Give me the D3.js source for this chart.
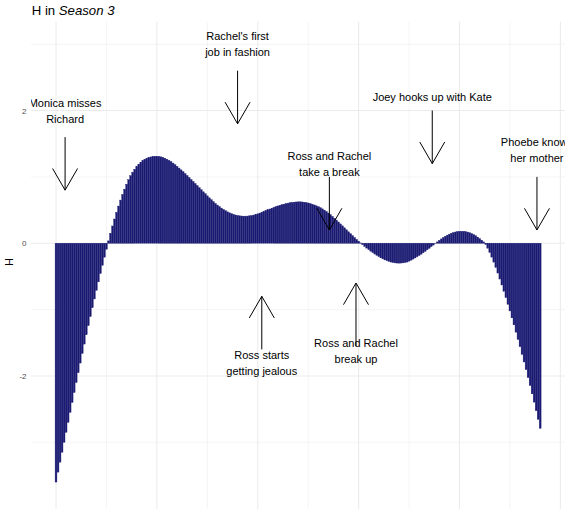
<!DOCTYPE html>
<html><head><meta charset="utf-8">
<script src="https://cdn.jsdelivr.net/npm/d3@7"></script>
<style>body{margin:0;background:#fff}svg{display:block}text{font-family:"Liberation Sans",Arial,Helvetica,sans-serif}</style>
</head><body><svg id="c" width="570" height="512"></svg>
<script>
// ---- data ----
const hValues = [
-3.60,-3.45,-3.30,-3.15,-3.00,-2.85,-2.70,-2.55,-2.40,-2.25,
-2.10,-1.952,-1.806,-1.662,-1.52,-1.38,-1.242,-1.106,-0.972,-0.84,
-0.71,-0.582,-0.456,-0.332,-0.21,-0.09,
0.035,0.15,0.26,0.365,0.465,0.56,0.65,0.735,0.815,0.89,
0.958,1.018,1.07,1.115,1.155,1.19,1.22,1.245,1.265,1.28,
1.292,1.301,1.307,1.31,1.31,
1.308,1.302,1.293,1.281,1.266,1.249,1.23,1.208,1.184,1.159,
1.133,1.106,1.078,1.049,1.02,0.99,0.96,0.93,0.899,0.868,
0.837,0.806,0.775,0.745,0.714,0.684,0.655,0.627,0.6,0.575,
0.551,0.529,0.509,0.49,0.473,0.458,0.445,0.434,0.425,0.418,
0.413,0.41,0.408,0.408,0.409,
0.413,0.418,0.425,0.433,0.443,0.454,0.466,0.478,0.491,0.504,
0.516,0.528,0.54,0.551,0.562,0.572,0.581,0.589,0.597,0.604,
0.61,0.615,0.619,0.622,0.624,0.624,0.622,0.618,0.613,0.606,
0.598,0.588,0.577,0.564,0.55,
0.535,0.518,0.499,0.478,0.455,0.43,0.404,0.377,0.349,0.32,
0.291,0.262,0.232,0.202,0.172,0.143,0.114,0.086,0.058,0.031,
0.005,
-0.022,-0.048,-0.073,-0.097,-0.12,-0.142,-0.163,-0.183,-0.202,
-0.22,-0.236,-0.251,-0.264,-0.275,-0.284,-0.291,-0.296,-0.299,-0.3,
-0.299,-0.296,-0.291,-0.284,-0.27,-0.255,-0.239,-0.222,-0.204,-0.185,
-0.165,-0.144,-0.122,-0.099,-0.076,-0.052,-0.028,-0.004,
0.02,0.043,0.065,0.086,0.105,0.122,0.137,0.15,0.161,0.169,
0.175,0.179,0.18,0.179,0.175,0.168,0.158,0.145,0.13,0.112,
0.092,0.07,0.046,0.02,
-0.02,-0.075,-0.14,-0.21,-0.285,-0.365,-0.45,-0.54,
-0.63,-0.725,-0.82,-0.92,-1.02,-1.125,-1.23,-1.34,-1.45,-1.56,
-1.675,-1.79,-1.905,-2.025,-2.145,-2.27,-2.395,-2.525,-2.655,-2.79
];
const timePoints = d3.range(hValues.length).map(i => i / 10);
const yTickValues = [-2, 0, 2];
const yTickLabels = ["-2", "0", "2"];
const yMinorBreaks = [-3, -1, 1, 3];
const xMajorBreaks = [0, 5, 10, 15, 20, 25];
const xMinorBreaks = [2.5, 7.5, 12.5, 17.5, 22.5];

const annoLabels = [
  ["Monica misses", "Richard"],
  ["Rachel's first", "job in fashion"],
  ["Ross and Rachel", "take a break"],
  ["Joey hooks up with Kate"],
  ["Phoebe knows", "her mother"],
  ["Ross starts", "getting jealous"],
  ["Ross and Rachel", "break up"]
];
const annoX     = [0.45, 9.0, 13.55, 18.65, 23.84, 10.2, 14.87];
const annoTextY = [2.0, 3.0, 1.2, 2.2, 1.4, -1.8, -1.63];
const annoFrom  = [1.6, 2.6, 1.0, 2.0, 1.0, -1.6, -1.55];
const annoTo    = [0.8, 1.8, 0.2, 1.2, 0.2, -0.8, -0.6];

// ---- layout ----
const panel = {left: 31, right: 565, top: 21.7, bottom: 509};
const x = d3.scaleLinear().domain([-1.24, 25.23]).range([panel.left, panel.right]);
const y = d3.scaleLinear().domain([-4.006, 3.339]).range([panel.bottom, panel.top]);
const svg = d3.select("#c");

svg.append("defs").append("clipPath").attr("id", "pc")
  .append("rect").attr("x", panel.left).attr("y", panel.top)
  .attr("width", panel.right - panel.left).attr("height", panel.bottom - panel.top);

const grid = svg.append("g");
grid.selectAll(".ymin").data(yMinorBreaks).join("line")
  .attr("x1", panel.left).attr("x2", panel.right)
  .attr("y1", d => y(d)).attr("y2", d => y(d))
  .attr("stroke", "#EBEBEB").attr("stroke-width", 0.55);
grid.selectAll(".xmin").data(xMinorBreaks).join("line")
  .attr("y1", panel.top).attr("y2", panel.bottom)
  .attr("x1", d => x(d)).attr("x2", d => x(d))
  .attr("stroke", "#EBEBEB").attr("stroke-width", 0.55);
grid.selectAll(".ymaj").data(yTickValues).join("line")
  .attr("x1", panel.left).attr("x2", panel.right)
  .attr("y1", d => y(d)).attr("y2", d => y(d))
  .attr("stroke", "#EBEBEB").attr("stroke-width", 1.07);
grid.selectAll(".xmaj").data(xMajorBreaks).join("line")
  .attr("y1", panel.top).attr("y2", panel.bottom)
  .attr("x1", d => x(d)).attr("x2", d => x(d))
  .attr("stroke", "#EBEBEB").attr("stroke-width", 1.07);

const plot = svg.append("g").attr("clip-path", "url(#pc)");
const barW = 0.09;
plot.selectAll("rect.bar").data(hValues).join("rect").attr("class", "bar")
  .attr("x", (d, i) => x(timePoints[i] - barW / 2))
  .attr("width", x(barW) - x(0))
  .attr("y", d => y(Math.max(d, 0)))
  .attr("height", d => Math.abs(y(d) - y(0)))
  .attr("fill", "#191970")
  .attr("stroke", "#24247a").attr("stroke-width", 0.4);

// annotations
const headLen = 25, headAng = Math.PI / 6;
annoLabels.forEach((lines, k) => {
  const ax = x(annoX[k]);
  const y0 = y(annoFrom[k]), y1 = y(annoTo[k]);
  plot.append("line").attr("x1", ax).attr("x2", ax).attr("y1", y0).attr("y2", y1)
    .attr("stroke", "#000").attr("stroke-width", 1);
  const dir = y1 > y0 ? -1 : 1;
  [-1, 1].forEach(s => {
    plot.append("line").attr("x1", ax).attr("y1", y1)
      .attr("x2", ax + s * headLen * Math.sin(headAng))
      .attr("y2", y1 + dir * headLen * Math.cos(headAng))
      .attr("stroke", "#000").attr("stroke-width", 1);
  });
  const cy = y(annoTextY[k]);
  const lh = 16;
  const firstBase = cy - (lines.length - 1) * lh / 2 + 4;
  const t = plot.append("text").attr("text-anchor", "middle")
    .attr("font-size", "11px").attr("fill", "#000");
  lines.forEach((ln, j) => {
    t.append("tspan").attr("x", ax).attr("y", firstBase + j * lh).text(ln);
  });
});

// y axis labels
svg.selectAll("text.ytick").data(yTickValues).join("text").attr("class", "ytick")
  .attr("x", 26.5).attr("y", d => y(d) + 3)
  .attr("text-anchor", "end").attr("font-size", "8px").attr("fill", "#4D4D4D")
  .text((d, i) => yTickLabels[i]);

svg.append("text").attr("transform", "translate(13.3,262) rotate(-90)")
  .attr("text-anchor", "middle").attr("font-size", "11px").attr("fill", "#000").text("H");

const title = svg.append("text").attr("x", 31.7).attr("y", 15)
  .attr("font-size", "13.2px").attr("fill", "#000");
title.append("tspan").text("H in ");
title.append("tspan").attr("font-style", "italic").text("Season 3");
</script></body></html>
